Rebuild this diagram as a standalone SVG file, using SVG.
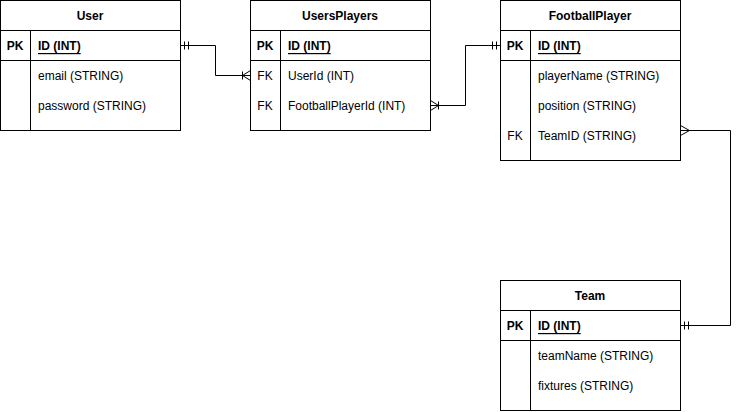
<svg xmlns="http://www.w3.org/2000/svg" width="740" height="412" viewBox="0 0 740 412">
<style>
.box{fill:#fff;stroke:#000;stroke-width:1}
.ln{fill:none;stroke:#000;stroke-width:1}
text{font-family:"Liberation Sans",Arial,sans-serif;font-size:12px;fill:#000;dominant-baseline:central}
.h{font-weight:bold;text-anchor:middle}
.k{font-weight:bold;text-anchor:middle}
.pk{font-weight:bold;text-decoration:underline}
.t{transform:translate(0px,1px)}
</style>
<rect width="740" height="412" fill="#fff"/>
<g id="User">
<rect class="box" x="0.5" y="0.5" width="180" height="130"/>
<path class="ln" d="M0.5 30.5H180.5M0.5 60.5H180.5M30.5 30.5V130.5"/>
<g class="t">
<text class="h" x="90" y="15">User</text>
<text class="k" x="15" y="45">PK</text>
<text class="pk" x="38" y="45">ID (INT)</text>
<text x="38" y="75">email (STRING)</text>
<text x="38" y="105">password (STRING)</text>
</g>
</g>
<g id="UsersPlayers">
<rect class="box" x="250.5" y="0.5" width="180" height="130"/>
<path class="ln" d="M250.5 30.5H430.5M250.5 60.5H430.5M280.5 30.5V130.5"/>
<g class="t">
<text class="h" x="340" y="15">UsersPlayers</text>
<text class="k" x="265" y="45">PK</text>
<text class="pk" x="288" y="45">ID (INT)</text>
<text x="265" y="75" text-anchor="middle">FK</text>
<text x="288" y="75">UserId (INT)</text>
<text x="265" y="105" text-anchor="middle">FK</text>
<text x="288" y="105">FootballPlayerId (INT)</text>
</g>
</g>
<g id="FootballPlayer">
<rect class="box" x="500.5" y="0.5" width="180" height="160"/>
<path class="ln" d="M500.5 30.5H680.5M500.5 60.5H680.5M530.5 30.5V160.5"/>
<g class="t">
<text class="h" x="590" y="15">FootballPlayer</text>
<text class="k" x="515" y="45">PK</text>
<text class="pk" x="538" y="45">ID (INT)</text>
<text x="538" y="75">playerName (STRING)</text>
<text x="538" y="105">position (STRING)</text>
<text x="515" y="135" text-anchor="middle">FK</text>
<text x="538" y="135">TeamID (STRING)</text>
</g>
</g>
<g id="Team">
<rect class="box" x="500.5" y="280.5" width="180" height="130"/>
<path class="ln" d="M500.5 310.5H680.5M500.5 340.5H680.5M530.5 310.5V410.5"/>
<g class="t">
<text class="h" x="590" y="295">Team</text>
<text class="k" x="515" y="325">PK</text>
<text class="pk" x="538" y="325">ID (INT)</text>
<text x="538" y="355">teamName (STRING)</text>
<text x="538" y="385">fixtures (STRING)</text>
</g>
</g>
<g id="connectors">
<path class="ln" d="M180.5 45.5H215.5V75.5H250.5"/>
<path class="ln" d="M184.5 41.5V49.5M188.5 41.5V49.5"/>
<path class="ln" d="M242.5 71.5V79.5M242.5 75.5L250.5 70.5M242.5 75.5L250.5 80.5"/>
<path class="ln" d="M430.5 105.5H465.5V45.5H500.5"/>
<path class="ln" d="M438.5 101.5V109.5M438.5 105.5L430.5 100.5M438.5 105.5L430.5 110.5"/>
<path class="ln" d="M492.5 41.5V49.5M496.5 41.5V49.5"/>
<path class="ln" d="M680.5 130.5H730.5V325.5H680.5"/>
<path class="ln" d="M689.5 130.5L680.5 125.5M689.5 130.5L680.5 135.5"/>
<path class="ln" d="M684.5 321.5V329.5M688.5 321.5V329.5"/>
</g>
</svg>
